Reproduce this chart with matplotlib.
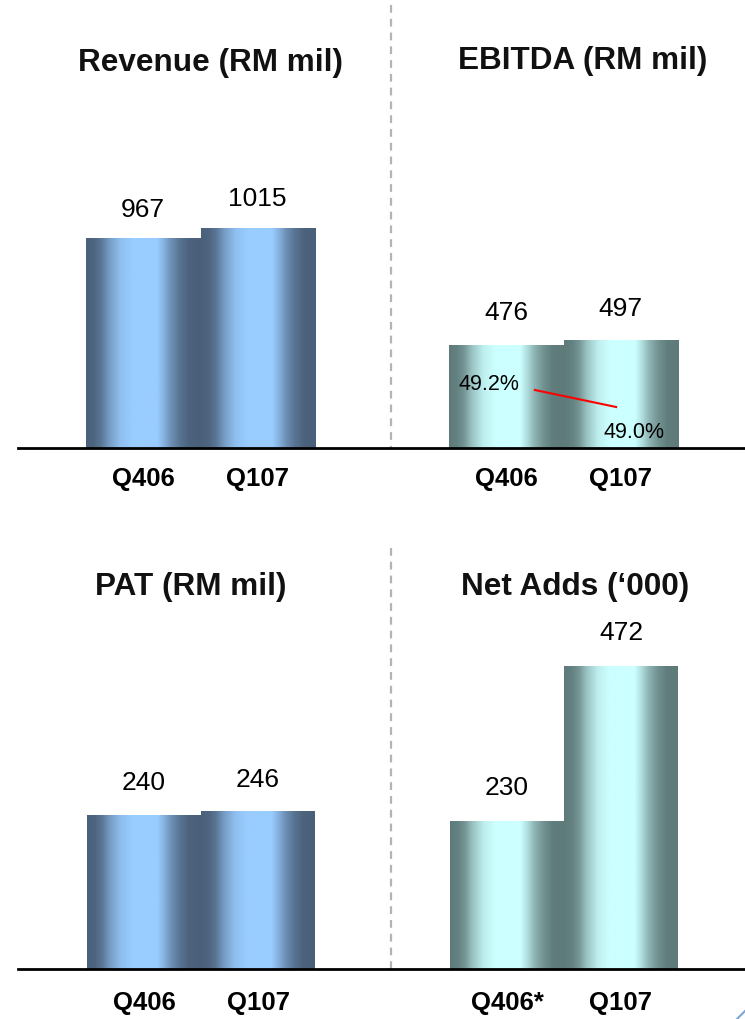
import numpy as np
import matplotlib
matplotlib.use("Agg")
import matplotlib.pyplot as plt
from matplotlib.colors import LinearSegmentedColormap, to_rgb
from matplotlib.lines import Line2D

plt.rcParams["font.family"] = ["Liberation Sans", "DejaVu Sans"]

# ---- data -------------------------------------------------------------
periods = ["Q406", "Q107"]
periods_adds = ["Q406*", "Q107"]
revenue = [967, 1015]
ebitda = [476, 497]
ebitda_margin = [49.2, 49.0]
pat = [240, 246]
net_adds = [230, 472]

# ---- canvas -----------------------------------------------------------
W, H = 745, 1019
DPI = 100
fig = plt.figure(figsize=(W / DPI, H / DPI), dpi=DPI)


def fx(px):
    return px / W


def fy(py):
    return 1 - py / H


def panel(left, right, base, top):
    ax = fig.add_axes([fx(left), fy(base), fx(right) - fx(left), fy(top) - fy(base)])
    ax.set_axis_off()
    return ax


def shaded_cmap(dark, light):
    d, l = np.array(to_rgb(dark)), np.array(to_rgb(light))
    pos = [0.0, 0.07, 0.13, 0.20, 0.30, 0.40, 0.62, 0.68, 0.74, 0.82, 0.90, 1.0]
    mix = [0.0, 0.05, 0.20, 0.55, 0.88, 1.0, 1.0, 0.75, 0.45, 0.18, 0.02, 0.0]
    return LinearSegmentedColormap.from_list(
        "shade", [(p, tuple(d + (l - d) * m)) for p, m in zip(pos, mix)])


blue = shaded_cmap("#4a607a", "#99ccff")
teal = shaded_cmap("#5e7b7a", "#ccffff")
grad = np.linspace(0, 1, 512).reshape(1, -1)


def shaded_bars(ax, values, cmap, ymax, labels, label_gap_pt, cat_pad_pt):
    x = np.arange(len(values))
    bars = ax.bar(x, values, width=1.0, color="none", edgecolor="none")
    for rect in bars:
        bx, bw, bh = rect.get_x(), rect.get_width(), rect.get_height()
        ax.imshow(grad, extent=(bx, bx + bw, 0, bh), aspect="auto",
                  cmap=cmap, interpolation="bilinear", zorder=2)
    for xi, v in zip(x, values):
        ax.annotate(f"{v}", (xi, v), xytext=(0, label_gap_pt),
                    textcoords="offset points", ha="center", va="center",
                    fontsize=19, color="black")
    ax.set_xlim(-0.5, len(values) - 0.5)
    ax.set_ylim(0, ymax)
    for xi, lab in zip(x, labels):
        ax.annotate(lab, (xi, 0), xytext=(0, -cat_pad_pt),
                    textcoords="offset points", ha="center", va="center",
                    fontsize=18.5, fontweight="bold", color="black",
                    annotation_clip=False)
    return bars


# top row: baseline at y=448 px, bottom row: baseline at y=969 px
ax_rev = panel(86, 315, 448, 100)
shaded_bars(ax_rev, revenue, blue, 1610, periods, 21, 22)

ax_ebi = panel(449, 678, 448, 100)
shaded_bars(ax_ebi, ebitda, teal, 1610, periods, 23, 22)

ax_pat = panel(87, 315, 969, 620)
shaded_bars(ax_pat, pat, blue, 545, periods, 23, 24.5)

ax_add = panel(450, 678, 969, 620)
shaded_bars(ax_add, net_adds, teal, 545, periods_adds, 24, 24.5)

# EBITDA margin trend on its own scale
ax_m = ax_ebi.twinx()
ax_m.set_axis_off()
ax_m.set_ylim(48.518, 52.61)
mx = np.arange(len(ebitda_margin)) + np.array([0.25, -0.04])
ax_m.plot(mx, ebitda_margin, color="#ff0000", lw=1.5, zorder=5)
ax_m.annotate(f"{ebitda_margin[0]:.1f}%", (mx[0], ebitda_margin[0]),
              xytext=(-11.5, 3.6), textcoords="offset points",
              ha="right", va="center", fontsize=15.5, color="black")
ax_m.annotate(f"{ebitda_margin[1]:.1f}%", (mx[1], ebitda_margin[1]),
              xytext=(-9.4, -18.7), textcoords="offset points",
              ha="left", va="center", fontsize=15.5, color="black")

# baselines and dividers
for base in (448, 969):
    fig.add_artist(Line2D([fx(18), fx(745)], [fy(base), fy(base)],
                          color="black", lw=2.0, zorder=10))
for top, base in ((5, 448), (548, 969)):
    fig.add_artist(Line2D([fx(391), fx(391)], [fy(top), fy(base)],
                          color="#b4b4b4", lw=1.6, ls=(0, (3.5, 2.7)), zorder=1))

# small corner stroke
fig.add_artist(Line2D([fx(737), fx(745)], [fy(1019), fy(1011)],
                      color="#7aa6d6", lw=1.5))

# titles
title_kw = dict(ha="center", va="center", fontsize=22.7, fontweight="bold", color="#111111")
fig.text(fx(210), fy(63), "Revenue (RM mil)", **title_kw)
fig.text(fx(583), fy(61), "EBITDA (RM mil)", **title_kw)
fig.text(fx(191), fy(587), "PAT (RM mil)", **title_kw)
fig.text(fx(575), fy(587), "Net Adds (\u2018000)", **title_kw)

fig.savefig("out.png", dpi=DPI)
